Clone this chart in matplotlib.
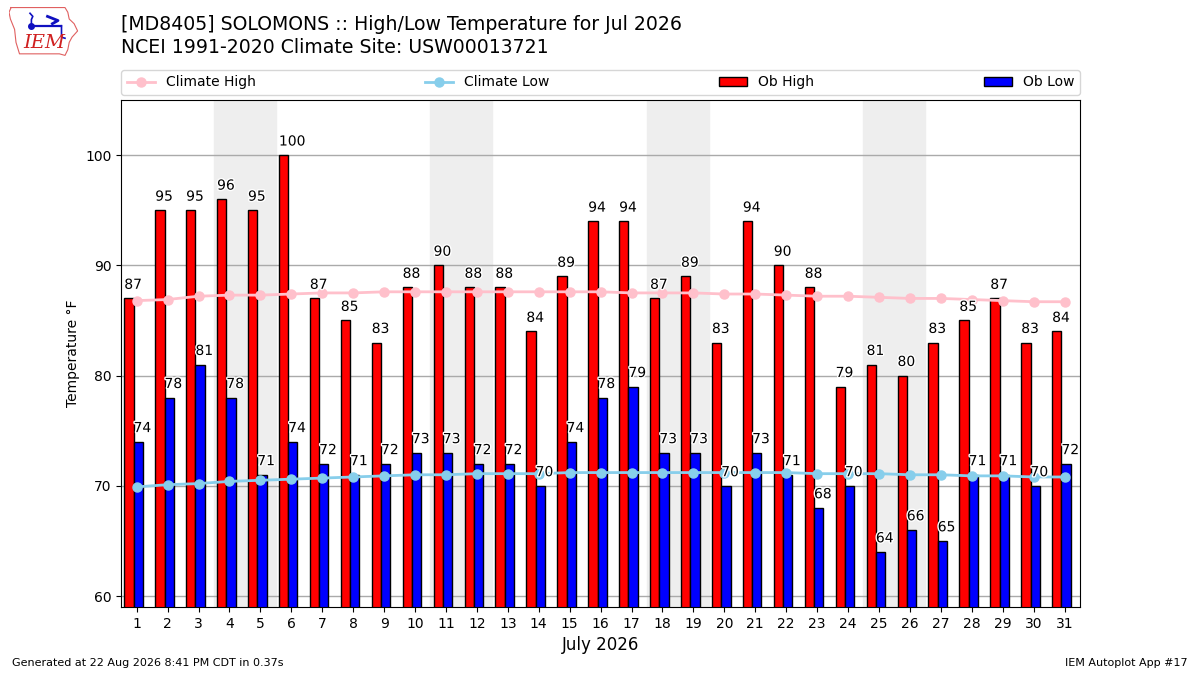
import matplotlib
matplotlib.use("Agg")
import numpy as np
import matplotlib.pyplot as plt
import matplotlib.patheffects as PathEffects

days = np.arange(1, 32)
ob_high = [87, 95, 95, 96, 95, 100, 87, 85, 83, 88, 90, 88, 88, 84, 89, 94,
           94, 87, 89, 83, 94, 90, 88, 79, 81, 80, 83, 85, 87, 83, 84]
ob_low = [74, 78, 81, 78, 71, 74, 72, 71, 72, 73, 73, 72, 72, 70, 74, 78,
          79, 73, 73, 70, 73, 71, 68, 70, 64, 66, 65, 71, 71, 70, 72]
climo_high = [86.8, 86.9, 87.2, 87.3, 87.3, 87.4, 87.5, 87.5, 87.6, 87.6,
              87.6, 87.6, 87.6, 87.6, 87.6, 87.6, 87.5, 87.5, 87.5, 87.4,
              87.4, 87.3, 87.2, 87.2, 87.1, 87.0, 87.0, 86.9, 86.8, 86.7, 86.7]
climo_low = [69.9, 70.1, 70.2, 70.4, 70.5, 70.6, 70.7, 70.8, 70.9, 71.0,
             71.0, 71.1, 71.1, 71.1, 71.2, 71.2, 71.2, 71.2, 71.2, 71.2,
             71.2, 71.2, 71.1, 71.1, 71.1, 71.0, 71.0, 70.9, 70.9, 70.8, 70.8]
weekends = [4, 11, 18, 25]

fig = plt.figure(figsize=(12, 6.75), dpi=100)
ax = fig.add_axes([0.101, 0.1007, 0.799, 0.7511])

for d in weekends:
    ax.axvspan(d - 0.5, d + 1.5, color="#eeeeee", zorder=0)

ax.bar(days - 0.4, ob_high, width=0.3, align="edge", color="r",
       edgecolor="k", linewidth=1, label="Ob High", zorder=2)
ax.bar(days - 0.1, ob_low, width=0.3, align="edge", color="b",
       edgecolor="k", linewidth=1, label="Ob Low", zorder=2)
ax.plot(days, climo_high, color="pink", marker="o", markersize=6.5,
        linewidth=2, label="Climate High", zorder=3)
ax.plot(days, climo_low, color="skyblue", marker="o", markersize=6.5,
        linewidth=2, label="Climate Low", zorder=3)

for d, hi, lo in zip(days, ob_high, ob_low):
    for xx, val in ((d - 0.4, hi), (d - 0.1, lo)):
        t = ax.text(xx, val + 0.6, f"{val}", ha="left", va="bottom",
                    fontsize=10, zorder=5)
        t.set_path_effects([PathEffects.withStroke(linewidth=2,
                                                   foreground="white")])

ax.set_xlim(0.5, 31.5)
ax.set_ylim(59, 105)
ax.set_xticks(days)
ax.set_yticks([60, 70, 80, 90, 100])
ax.yaxis.grid(True, color="#aaaaaa", linewidth=1)
ax.set_axisbelow(True)
ax.set_xlabel("July 2026", fontsize=12)
ax.set_ylabel("Temperature \u00b0F")

handles, labels = ax.get_legend_handles_labels()
want = ["Climate High", "Climate Low", "Ob High", "Ob Low"]
order = [labels.index(w) for w in want]
ax.legend([handles[i] for i in order], [labels[i] for i in order],
          loc="lower left", bbox_to_anchor=(0, 1.01, 1, 0.05), ncol=4,
          mode="expand", borderaxespad=0, fontsize=10)

fig.text(0.101, 0.95, "[MD8405] SOLOMONS :: High/Low Temperature for Jul 2026",
         fontsize=13.6, va="bottom")
fig.text(0.101, 0.915, "NCEI 1991-2020 Climate Site: USW00013721",
         fontsize=13.6, va="bottom")
fig.text(0.01, 0.01, "Generated at 22 Aug 2026 8:41 PM CDT in 0.37s",
         fontsize=8, va="bottom")
fig.text(0.99, 0.01, "IEM Autoplot App #17", fontsize=8, ha="right",
         va="bottom")

# rough IEM logo
lax = fig.add_axes([9 / 1200, 1 - 58 / 675, 70 / 1200, 52 / 675])
lax.set_xlim(0, 1)
lax.set_ylim(0, 1)
lax.axis("off")
ox = [0.03, 0.80, 0.84, 0.86, 0.93, 0.98, 0.90, 0.86, 0.84, 0.80, 0.72,
      0.15, 0.10, 0.08, 0.02, 0.00, 0.03]
oy = [0.97, 0.97, 0.88, 0.75, 0.66, 0.52, 0.40, 0.30, 0.16, 0.05, 0.08,
      0.08, 0.30, 0.55, 0.75, 0.88, 0.97]
lax.plot(ox, oy, color="#e06060", linewidth=0.8)
lax.plot([0.32, 0.75], [0.62, 0.62], color="#1010c0", linewidth=1.6)
lax.plot([0.32], [0.62], "o", color="#1010c0", markersize=4)
lax.plot([0.30, 0.34, 0.32, 0.32], [0.86, 0.80, 0.74, 0.62],
         color="#1010c0", linewidth=1.2)
lax.plot([0.55, 0.70, 0.62], [0.80, 0.72, 0.66], color="#1010c0",
         linewidth=2)
lax.plot([0.75, 0.75, 0.80], [0.62, 0.40, 0.38], color="#1010c0",
         linewidth=1.2)
lax.text(0.50, 0.12, "IEM", color="#d02020", fontsize=14, family="serif",
         style="italic", ha="center", va="bottom")

fig.savefig("out.png", dpi=100)
